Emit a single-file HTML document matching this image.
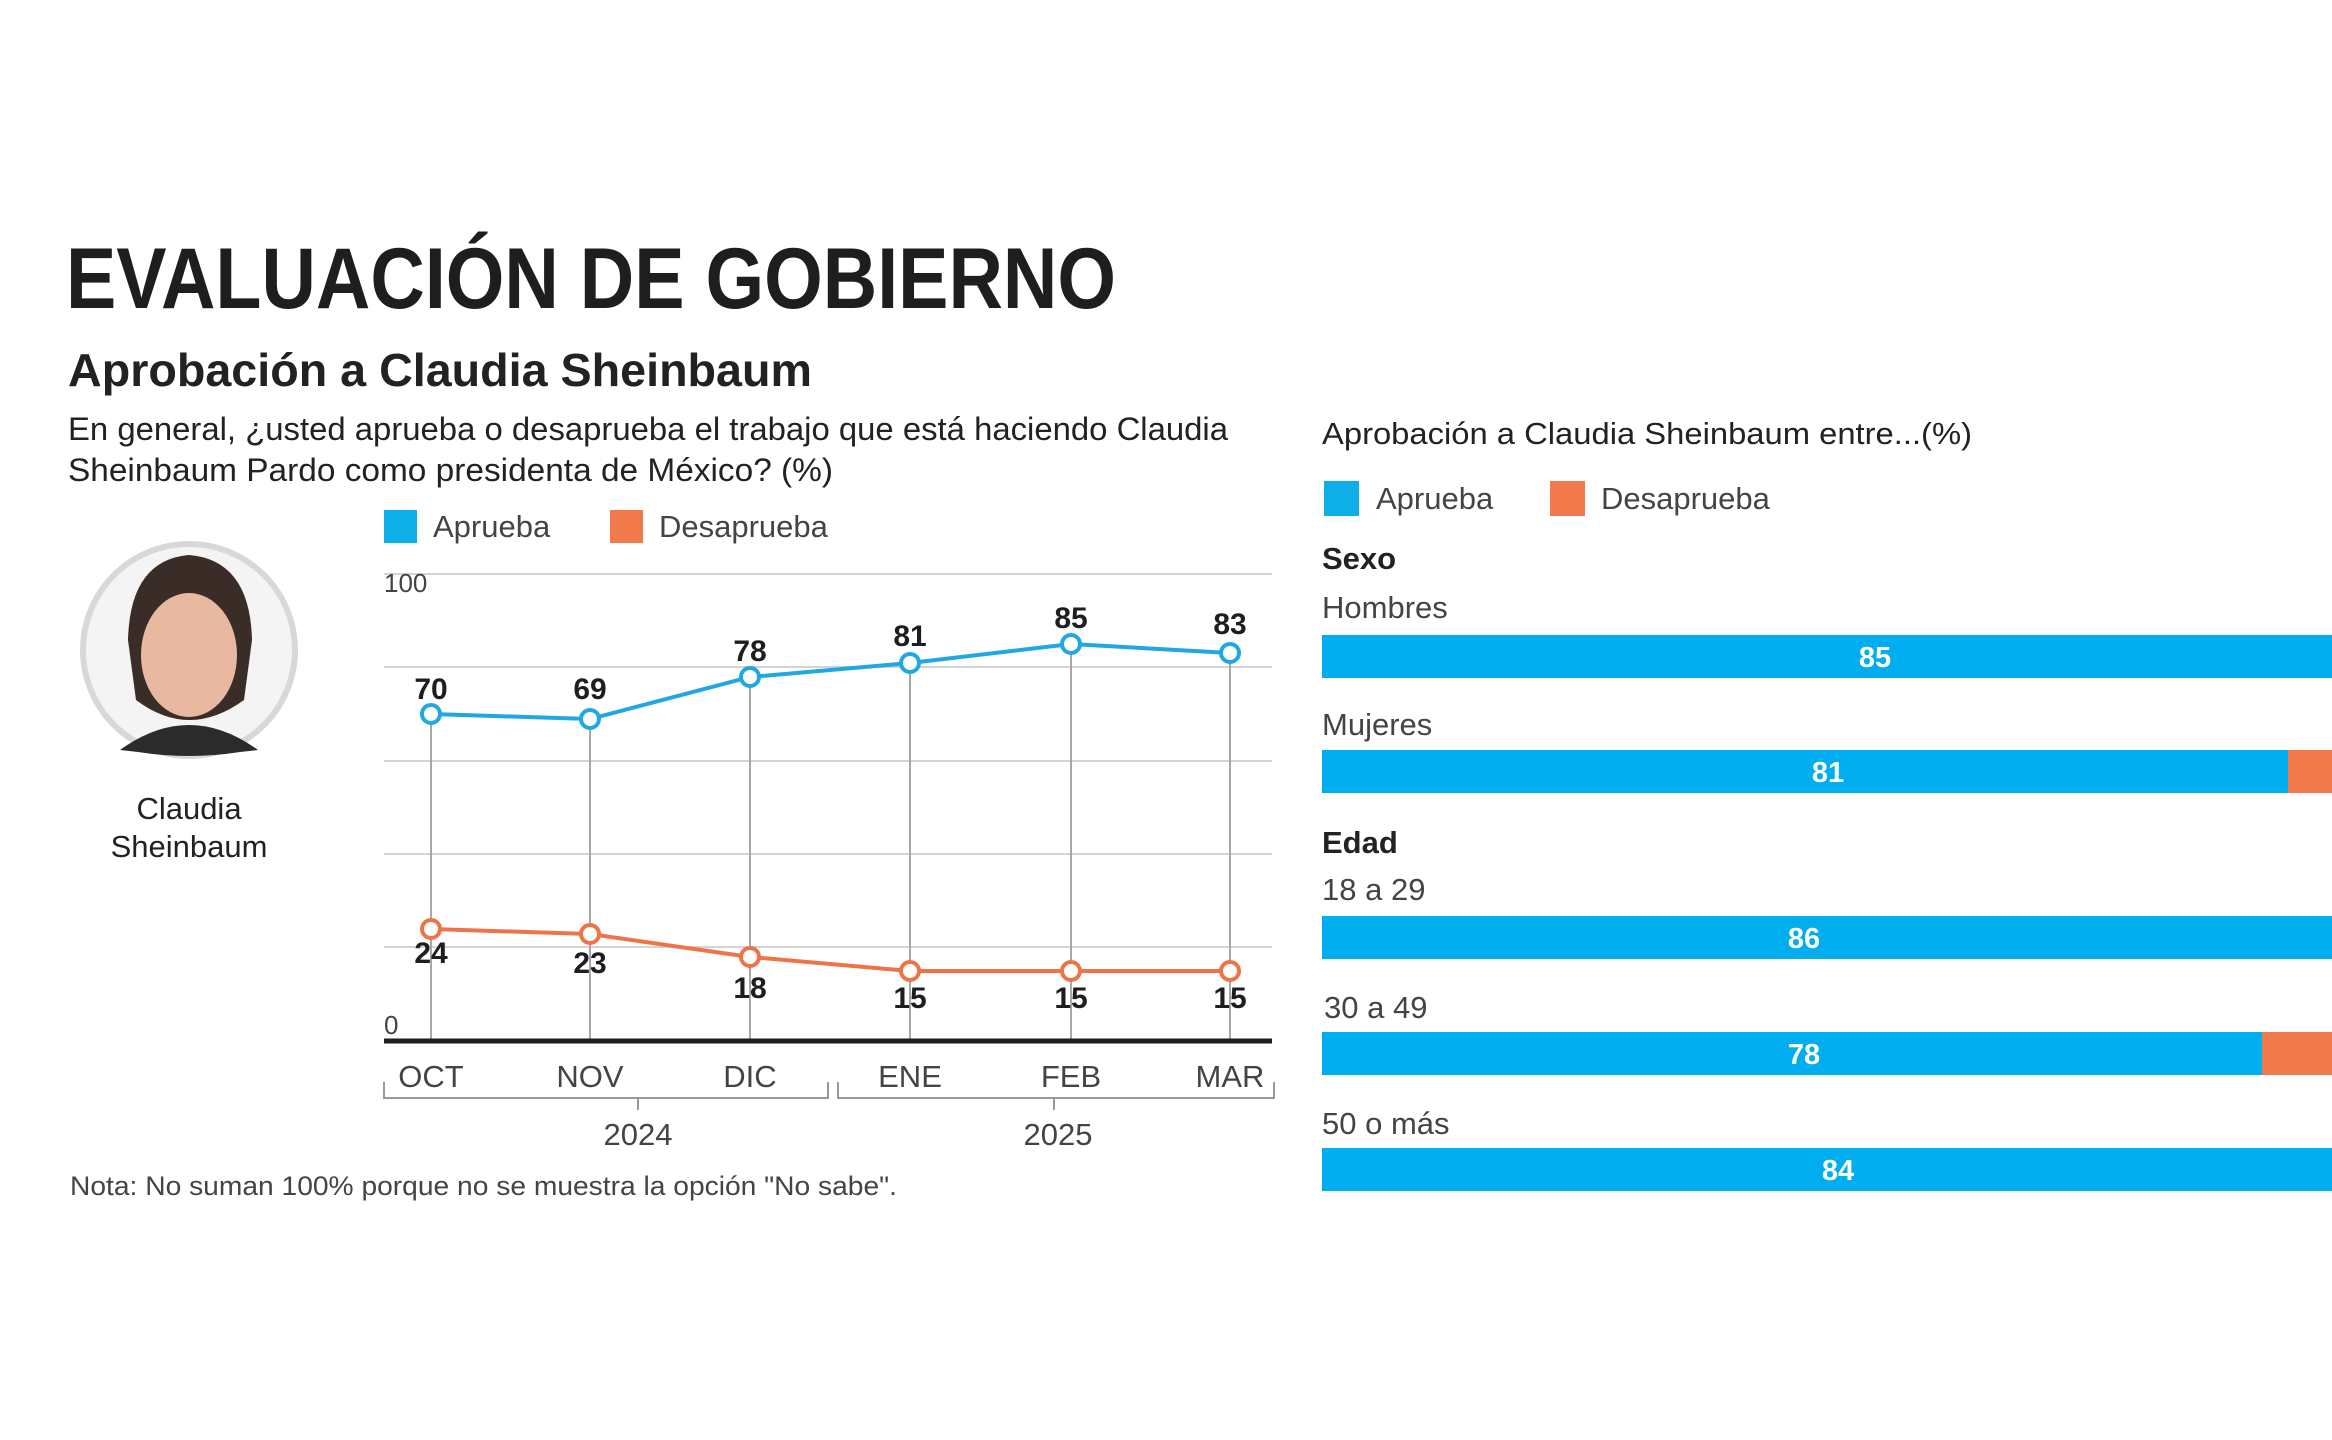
<!DOCTYPE html>
<html><head><meta charset="utf-8"><style>
html,body{margin:0;padding:0;background:#fff;}
svg{display:block;font-family:"Liberation Sans",sans-serif;}
</style></head><body>
<svg width="2332" height="1440" viewBox="0 0 2332 1440" xmlns="http://www.w3.org/2000/svg">
<rect width="2332" height="1440" fill="#fff"/>
<text x="66" y="308" font-size="86" font-weight="bold" fill="#1e1e1e" textLength="1050" lengthAdjust="spacingAndGlyphs">EVALUACIÓN DE GOBIERNO</text>
<text x="68" y="386" font-size="46" font-weight="bold" fill="#222" textLength="744" lengthAdjust="spacingAndGlyphs">Aprobación a Claudia Sheinbaum</text>
<text x="68" y="440" font-size="32" fill="#222" textLength="1160" lengthAdjust="spacingAndGlyphs">En general, ¿usted aprueba o desaprueba el trabajo que está haciendo Claudia</text>
<text x="68" y="481" font-size="32" fill="#222" textLength="765" lengthAdjust="spacingAndGlyphs">Sheinbaum Pardo como presidenta de México?  (%)</text>

<!-- portrait -->
<circle cx="189" cy="650" r="106" fill="#f4f4f4" stroke="#d8d8d8" stroke-width="6"/>
<path d="M128 640 Q130 560 189 555 Q250 560 252 640 L244 700 Q189 740 136 700 Z" fill="#3a2c26"/>
<ellipse cx="189" cy="655" rx="48" ry="62" fill="#e8b9a0"/>
<path d="M120 750 Q189 700 258 750 L240 752 Q189 760 138 752 Z" fill="#2b2b2b"/>
<text x="189" y="819" font-size="31" fill="#222" text-anchor="middle">Claudia</text>
<text x="189" y="857" font-size="31" fill="#222" text-anchor="middle">Sheinbaum</text>

<!-- legend left -->
<rect x="384" y="510" width="33" height="33" fill="#0eaee8"/>
<text x="433" y="537" font-size="31" fill="#444">Aprueba</text>
<rect x="610" y="510" width="33" height="33" fill="#f07a4b"/>
<text x="659" y="537" font-size="31" fill="#444">Desaprueba</text>

<!-- grid -->
<g stroke="#d4d4d4" stroke-width="2">
<line x1="384" y1="574" x2="1272" y2="574"/>
<line x1="384" y1="667" x2="1272" y2="667"/>
<line x1="384" y1="761" x2="1272" y2="761"/>
<line x1="384" y1="854" x2="1272" y2="854"/>
<line x1="384" y1="947" x2="1272" y2="947"/>
</g>
<g stroke="#a8a8a8" stroke-width="2">
<line x1="431" y1="714" x2="431" y2="1041"/>
<line x1="590" y1="718" x2="590" y2="1041"/>
<line x1="750" y1="677" x2="750" y2="1041"/>
<line x1="910" y1="663" x2="910" y2="1041"/>
<line x1="1071" y1="644" x2="1071" y2="1041"/>
<line x1="1230" y1="653" x2="1230" y2="1041"/>
</g>
<line x1="384" y1="1041" x2="1272" y2="1041" stroke="#1e1e1e" stroke-width="5"/>
<text x="384" y="592" font-size="26" fill="#444">100</text>
<text x="384" y="1034" font-size="26" fill="#444">0</text>

<polyline points="431,714 590,719 750,677 910,663 1071,644 1230,653" fill="none" stroke="#1fa8e4" stroke-width="4"/>
<polyline points="431,929 590,934 750,957 910,971 1071,971 1230,971" fill="none" stroke="#ee7448" stroke-width="4"/>
<g fill="#fff" stroke="#1fa8e4" stroke-width="4">
<circle cx="431" cy="714" r="9"/><circle cx="590" cy="719" r="9"/><circle cx="750" cy="677" r="9"/>
<circle cx="910" cy="663" r="9"/><circle cx="1071" cy="644" r="9"/><circle cx="1230" cy="653" r="9"/>
</g>
<g fill="#fff" stroke="#ee7448" stroke-width="4">
<circle cx="431" cy="929" r="9"/><circle cx="590" cy="934" r="9"/><circle cx="750" cy="957" r="9"/>
<circle cx="910" cy="971" r="9"/><circle cx="1071" cy="971" r="9"/><circle cx="1230" cy="971" r="9"/>
</g>
<g font-size="30" font-weight="bold" fill="#1e1e1e" text-anchor="middle">
<text x="431" y="699">70</text><text x="590" y="699">69</text><text x="750" y="661">78</text>
<text x="910" y="646">81</text><text x="1071" y="628">85</text><text x="1230" y="634">83</text>
<text x="431" y="963">24</text><text x="590" y="973">23</text><text x="750" y="998">18</text>
<text x="910" y="1008">15</text><text x="1071" y="1008">15</text><text x="1230" y="1008">15</text>
</g>
<g font-size="31" fill="#444" text-anchor="middle">
<text x="431" y="1087">OCT</text><text x="590" y="1087">NOV</text><text x="750" y="1087">DIC</text>
<text x="910" y="1087">ENE</text><text x="1071" y="1087">FEB</text><text x="1230" y="1087">MAR</text>
<text x="638" y="1145">2024</text><text x="1058" y="1145">2025</text>
</g>
<g fill="none" stroke="#999" stroke-width="2">
<path d="M384 1082 V1098 H828 V1082"/>
<path d="M838 1082 V1098 H1274 V1082"/>
<line x1="638" y1="1098" x2="638" y2="1110"/>
<line x1="1054" y1="1098" x2="1054" y2="1110"/>
</g>
<text x="70" y="1195" font-size="27" fill="#444" textLength="827" lengthAdjust="spacingAndGlyphs">Nota: No suman 100% porque no se muestra la opción "No sabe".</text>

<!-- right panel -->
<text x="1322" y="444" font-size="31" fill="#222" textLength="650" lengthAdjust="spacingAndGlyphs">Aprobación a Claudia Sheinbaum entre...(%)</text>
<rect x="1324" y="481" width="35" height="35" fill="#0eaee8"/>
<text x="1376" y="509" font-size="31" fill="#444">Aprueba</text>
<rect x="1550" y="481" width="35" height="35" fill="#f07a4b"/>
<text x="1601" y="509" font-size="31" fill="#444">Desaprueba</text>

<text x="1322" y="569" font-size="31" font-weight="bold" fill="#222">Sexo</text>
<text x="1322" y="618" font-size="31" fill="#444">Hombres</text>
<rect x="1322" y="635" width="1010" height="43" fill="#00aeef"/>
<text x="1875" y="667" font-size="29" font-weight="bold" fill="#fff" text-anchor="middle">85</text>

<text x="1322" y="735" font-size="31" fill="#444">Mujeres</text>
<rect x="1322" y="750" width="1010" height="43" fill="#00aeef"/>
<rect x="2288" y="750" width="44" height="43" fill="#f07a4b"/>
<text x="1828" y="782" font-size="29" font-weight="bold" fill="#fff" text-anchor="middle">81</text>

<text x="1322" y="853" font-size="31" font-weight="bold" fill="#222">Edad</text>
<text x="1322" y="900" font-size="31" fill="#444">18 a 29</text>
<rect x="1322" y="916" width="1010" height="43" fill="#00aeef"/>
<text x="1804" y="948" font-size="29" font-weight="bold" fill="#fff" text-anchor="middle">86</text>

<text x="1324" y="1018" font-size="31" fill="#444">30 a 49</text>
<rect x="1322" y="1032" width="1010" height="43" fill="#00aeef"/>
<rect x="2262" y="1032" width="70" height="43" fill="#f07a4b"/>
<text x="1804" y="1064" font-size="29" font-weight="bold" fill="#fff" text-anchor="middle">78</text>

<text x="1322" y="1134" font-size="31" fill="#444">50 o más</text>
<rect x="1322" y="1148" width="1010" height="43" fill="#00aeef"/>
<text x="1838" y="1180" font-size="29" font-weight="bold" fill="#fff" text-anchor="middle">84</text>
</svg>
</body></html>
